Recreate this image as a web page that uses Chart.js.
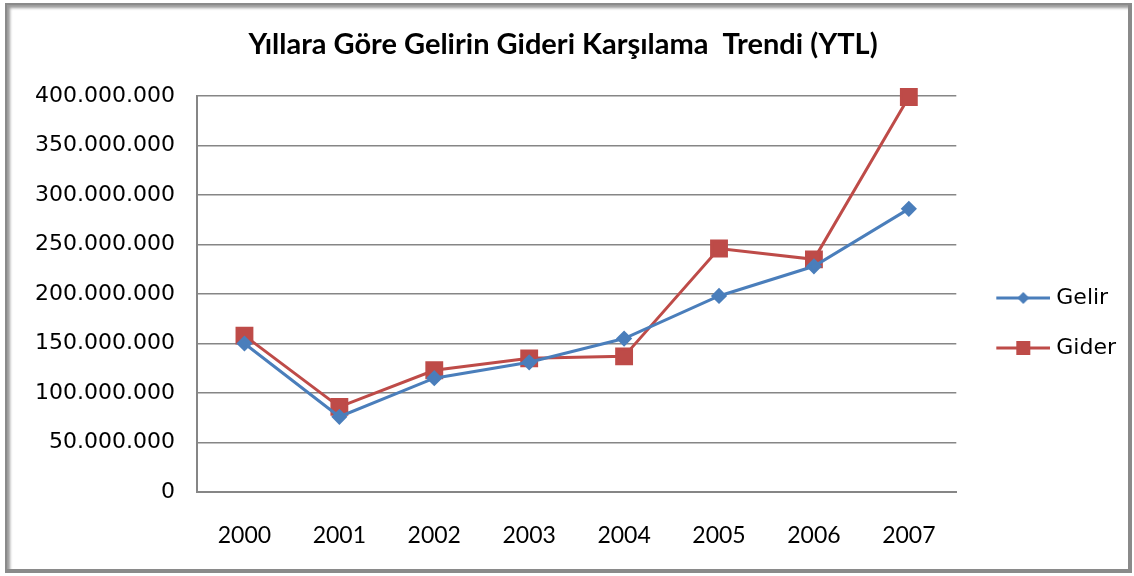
<!DOCTYPE html>
<html>
<head>
<meta charset="utf-8">
<script src="https://cdn.jsdelivr.net/npm/chart.js@4"></script>
<style>
  html, body { margin: 0; padding: 0; background: #fff; }
  #wrap { position: relative; width: 1134px; height: 576px; overflow: hidden; }
  #c { position: absolute; left: 0; top: 0; }
  #frame { position: absolute; left: 5px; top: 3px; width: 1121px; height: 564px;
           border: 2px solid #8a8a8a; border-right-width: 4px; border-bottom-width: 4px;
           box-shadow: inset 4px 4px 3px -1px #9a9a9a; pointer-events: none; }
</style>
</head>
<body>
<div id="wrap">
  <canvas id="c" width="1134" height="576"></canvas>
  <div id="frame"></div>
</div>
<script>
const titleText = 'Yıllara Göre Gelirin Gideri Karşılama  Trendi (YTL)';
const years = ['2000', '2001', '2002', '2003', '2004', '2005', '2006', '2007'];
const gelir = [150000000, 76000000, 115000000, 131000000, 155000000, 198000000, 228000000, 286000000];
const gider = [158000000, 86000000, 123000000, 135000000, 137000000, 246000000, 235000000, 399000000];
const yTickLabels = ['0', '50.000.000', '100.000.000', '150.000.000', '200.000.000',
                     '250.000.000', '300.000.000', '350.000.000', '400.000.000'];

const blue = '#4a7ebb';
const red = '#be4b48';

function legendIcon(color, style) {
  const L = 17, W = 71, H = 20;
  const cv = document.createElement('canvas');
  cv.width = W; cv.height = H;
  const g = cv.getContext('2d');
  g.strokeStyle = color; g.lineWidth = 3;
  g.beginPath(); g.moveTo(L, H / 2); g.lineTo(L + 54, H / 2); g.stroke();
  g.fillStyle = color;
  const cx = L + 27, cy = H / 2;
  if (style === 'rect') {
    g.fillRect(cx - 7, cy - 7, 14, 14);
  } else {
    g.beginPath(); g.moveTo(cx, cy - 6); g.lineTo(cx + 6, cy); g.lineTo(cx, cy + 6); g.lineTo(cx - 6, cy); g.closePath(); g.fill();
  }
  return cv;
}

const chart = new Chart(document.getElementById('c'), {
  type: 'line',
  data: {
    labels: years,
    datasets: [
      { label: 'Gelir', data: gelir, borderColor: blue, backgroundColor: blue, borderWidth: 3,
        pointStyle: 'rectRot', pointRadius: 6, pointHoverRadius: 6, tension: 0, clip: false },
      { label: 'Gider', data: gider, borderColor: red, backgroundColor: red, borderWidth: 3,
        pointStyle: 'rect', pointRadius: 10.5, pointHoverRadius: 10.5, tension: 0, clip: false }
    ]
  },
  options: {
    responsive: false,
    animation: false,
    layout: { padding: { left: 0, right: 8, top: 0, bottom: 0 } },
    plugins: {
      title: {
        display: true, text: titleText, color: '#000',
        font: { family: 'Lato', size: 29, weight: 'bold', lineHeight: 1.2 },
        padding: { top: 27, bottom: 34.2 }
      },
      legend: {
        position: 'right', align: 'center', maxWidth: 170,
        title: { display: true, text: ' ', font: { size: 10 }, padding: { top: 29, bottom: 29 } },
        labels: {
          usePointStyle: true, pointStyleWidth: 61, padding: 28,
          color: '#000', font: { family: 'DejaVu Sans', size: 22 },
          generateLabels(ch) {
            return ch.data.datasets.map((ds, i) => ({
              text: ds.label, datasetIndex: i, hidden: false,
              fillStyle: ds.backgroundColor, strokeStyle: ds.borderColor, lineWidth: 0,
              pointStyle: legendIcon(ds.borderColor, i === 0 ? 'rectRot' : 'rect'),
              fontColor: '#000'
            }));
          }
        }
      },
      tooltip: { enabled: false }
    },
    scales: {
      x: {
        offset: true,
        grid: { display: false, drawTicks: false },
        border: { display: true, color: '#868686', width: 2 },
        ticks: { color: '#000', font: { family: 'Lato', size: 23 }, padding: 30, maxRotation: 0 },
        afterFit(s) { s.height = 84; }
      },
      y: {
        min: 0, max: 400000000,
        grid: { color: '#868686', lineWidth: 1.5, drawTicks: false },
        border: { display: true, color: '#868686', width: 2 },
        ticks: { stepSize: 50000000, color: '#000', font: { family: 'DejaVu Sans', size: 22 }, padding: 22,
                 callback: (v, i) => yTickLabels[i] },
        afterFit(s) { s.width = 197; }
      }
    }
  }
});
</script>
</body>
</html>
